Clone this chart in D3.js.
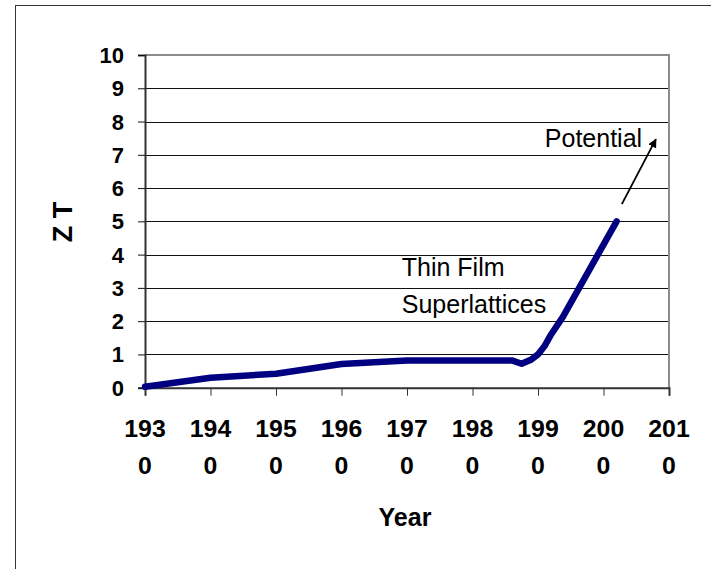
<!DOCTYPE html>
<html>
<head>
<meta charset="utf-8">
<script src="https://cdn.jsdelivr.net/npm/d3@7"></script>
<style>
  html, body { margin: 0; padding: 0; background: #fff; }
  svg { display: block; }
  text { font-family: "Liberation Sans", Arial, sans-serif; }
</style>
</head>
<body>
<svg id="chart" width="711" height="569"></svg>
<script>
// ---- data ----
const years = [1930, 1940, 1950, 1960, 1970, 1980, 1986, 1987.5, 1989, 1990, 1991, 1992, 1993.8, 2002];
const zt    = [0.03, 0.3, 0.42, 0.71, 0.82, 0.82, 0.82, 0.72, 0.85, 1.0, 1.25, 1.6, 2.13, 5.0];
const yTicks = [0, 1, 2, 3, 4, 5, 6, 7, 8, 9, 10];
const xTicks = [1930, 1940, 1950, 1960, 1970, 1980, 1990, 2000, 2010];
const xTickLabels = [["193", "0"], ["194", "0"], ["195", "0"], ["196", "0"], ["197", "0"], ["198", "0"], ["199", "0"], ["200", "0"], ["201", "0"]];
const yLabel = "Z T";
const xLabel = "Year";
const annotations = [
  { text: "Thin Film", x: 1969.2, y: 3.35, anchor: "start" },
  { text: "Superlattices", x: 1969.2, y: 2.25, anchor: "start" },
  { text: "Potential", x: 2005.9, y: 7.24, anchor: "end" }
];
const arrow = { x1: 2002.8, y1: 5.52, x2: 2008.0, y2: 7.47 };

// ---- layout ----
const svg = d3.select("#chart");
const L = 145, R = 669, T = 55, B = 387.7;
const x = d3.scaleLinear().domain([1930, 2010]).range([L, R]);
const y = d3.scaleLinear().domain([0, 10]).range([B, T]);

// outer frame
svg.append("rect").attr("x", 15.5).attr("y", 5.5).attr("width", 720).attr("height", 600)
  .attr("fill", "none").attr("stroke", "#333").attr("stroke-width", 1);

// gridlines
svg.append("g").selectAll("line").data(yTicks.filter(d => d > 0 && d < 10)).join("line")
  .attr("x1", L).attr("x2", R).attr("y1", d => Math.round(y(d)) + 0.5).attr("y2", d => Math.round(y(d)) + 0.5)
  .attr("stroke", "#111").attr("stroke-width", 1);

// plot top & right border (gray)
svg.append("line").attr("x1", L).attr("x2", R + 1).attr("y1", T).attr("y2", T)
  .attr("stroke", "#8c8c8c").attr("stroke-width", 2);
svg.append("line").attr("x1", R).attr("x2", R).attr("y1", T).attr("y2", B)
  .attr("stroke", "#8c8c8c").attr("stroke-width", 2);

// y axis
const yAxis = d3.axisLeft(y).tickValues(yTicks).tickSize(7).tickFormat("");
const gy = svg.append("g").attr("transform", `translate(${L},0)`).call(yAxis);
gy.select(".domain").attr("stroke", "#333").attr("stroke-width", 2);
gy.selectAll(".tick line").attr("stroke", "#111");
svg.append("g").selectAll("text").data(yTicks).join("text")
  .attr("x", 124).attr("y", d => y(d) + 8)
  .attr("text-anchor", "end").attr("font-size", 22).attr("font-weight", "bold")
  .attr("fill", "#000").text(d => d);

// x axis
const xAxis = d3.axisBottom(x).tickValues(xTicks).tickSize(8).tickFormat("");
const gx = svg.append("g").attr("transform", `translate(0,${B})`).call(xAxis);
gx.select(".domain").attr("stroke", "#333").attr("stroke-width", 2);
gx.selectAll(".tick line").attr("stroke", "#333");
const xl = svg.append("g").selectAll("g").data(xTicks).join("g")
  .attr("transform", d => `translate(${x(d)},0) scale(1.08,1)`);
xl.append("text").attr("y", 437).attr("text-anchor", "middle")
  .attr("font-size", 23).attr("font-weight", "bold").text((d, i) => xTickLabels[i][0]);
xl.append("text").attr("y", 474).attr("text-anchor", "middle")
  .attr("font-size", 23).attr("font-weight", "bold").text((d, i) => xTickLabels[i][1]);

// axis titles
svg.append("text").attr("transform", "translate(72,222) rotate(-90)")
  .attr("text-anchor", "middle").attr("font-size", 27).attr("font-weight", "bold").text(yLabel);
svg.append("text").attr("x", 405).attr("y", 526).attr("text-anchor", "middle")
  .attr("font-size", 25).attr("font-weight", "bold").text(xLabel);

// series line
const pts = years.map((d, i) => [d, zt[i]]);
const line = d3.line().x(d => x(d[0])).y(d => y(d[1])).curve(d3.curveLinear);
svg.append("path").datum(pts).attr("d", line)
  .attr("fill", "none").attr("stroke", "#000080").attr("stroke-width", 6.5)
  .attr("stroke-linecap", "round").attr("stroke-linejoin", "round");

// annotations
svg.append("g").selectAll("text").data(annotations).join("text")
  .attr("x", d => x(d.x)).attr("y", d => y(d.y)).attr("text-anchor", d => d.anchor)
  .attr("font-size", 25).attr("fill", "#000").text(d => d.text);

// arrow
svg.append("defs").append("marker").attr("id", "ah").attr("viewBox", "0 0 10 10")
  .attr("refX", 9).attr("refY", 5).attr("markerWidth", 5).attr("markerHeight", 5)
  .attr("orient", "auto").attr("markerUnits", "strokeWidth")
  .append("path").attr("d", "M0,0 L10,5 L0,10 Z").attr("fill", "#000");
svg.append("line").attr("x1", x(arrow.x1)).attr("y1", y(arrow.y1))
  .attr("x2", x(arrow.x2)).attr("y2", y(arrow.y2))
  .attr("stroke", "#000").attr("stroke-width", 1.8).attr("marker-end", "url(#ah)");
</script>
</body>
</html>
